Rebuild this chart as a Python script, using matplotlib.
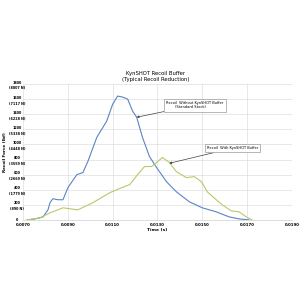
import matplotlib

matplotlib.use("Agg")
import matplotlib.pyplot as plt

# values
blue_t = [0.00718, 0.00753, 0.00789, 0.00811, 0.00820, 0.00833, 0.00856, 0.00878, 0.00900,
          0.00940, 0.00967, 0.00989, 0.01029, 0.01073, 0.01100, 0.01122, 0.01144, 0.01167,
          0.01189, 0.01207, 0.01233, 0.01264, 0.01296, 0.01340, 0.01384, 0.01442, 0.01500,
          0.01562, 0.01620, 0.01664, 0.01709]
blue_f = [0, 13, 40, 133, 227, 280, 267, 267, 427,
          600, 627, 773, 1093, 1307, 1533, 1640, 1627, 1600,
          1440, 1360, 1093, 840, 693, 507, 373, 240, 160,
          107, 40, 13, 0]

green_t = [0.00718, 0.00776, 0.00820, 0.00878, 0.00944, 0.01011, 0.01087, 0.01140, 0.01176,
           0.01211, 0.01242, 0.01273, 0.01296, 0.01322, 0.01353, 0.01384, 0.01429, 0.01464,
           0.01496, 0.01522, 0.01562, 0.01589, 0.01629, 0.01664, 0.01696, 0.01722]
green_f = [0, 27, 93, 160, 133, 227, 360, 427, 467,
           600, 707, 707, 760, 827, 760, 640, 560, 573,
           507, 373, 267, 200, 120, 107, 40, 0]

x_ticks = [0.0070, 0.0090, 0.0110, 0.0130, 0.0150, 0.0170, 0.0190]
y_ticks = [0, 200, 400, 600, 800, 1000, 1200, 1400, 1600, 1800]
y_newtons = ["", "890 N", "1779 N", "2669 N", "3559 N", "4448 N", "5338 N", "6228 N", "7117 N", "8007 N"]

fig = plt.figure(figsize=(3, 3), dpi=100)
ax = fig.add_axes([0.077, 0.267, 0.896, 0.453])

ax.plot(blue_t, blue_f, color="#5b84c4", linewidth=0.8, solid_joinstyle="round")
ax.plot(green_t, green_f, color="#b8c96a", linewidth=0.8, solid_joinstyle="round")

ax.set_xlim(x_ticks[0], x_ticks[-1])
ax.set_ylim(0, 1800)
ax.set_xticks(x_ticks)
ax.set_xticklabels([f"{t:.4f}" for t in x_ticks], fontsize=2.8, fontweight="bold")
ax.set_yticks(y_ticks)
ax.set_yticklabels([f"{v}\n({n})" if n else f"{v}" for v, n in zip(y_ticks, y_newtons)],
                   fontsize=2.4, fontweight="bold", linespacing=1.6, ha="center")
ax.tick_params(axis="y", length=0, pad=4.5)
ax.tick_params(axis="x", length=0, pad=2)
ax.grid(color="#dedede", linewidth=0.5)
for side in ("top", "right", "left"):
    ax.spines[side].set_visible(False)
ax.spines["bottom"].set_color("#cfcfcf")
ax.spines["bottom"].set_linewidth(0.5)

ax.set_xlabel("Time (s)", fontsize=3.2, fontweight="bold", labelpad=1)
ax.set_ylabel("Recoil Force (lbf)", fontsize=3.0, fontweight="bold")
ax.yaxis.set_label_coords(-0.062, 0.5)
fig.text(0.52, 0.745, "KynSHOT Recoil Buffer\n(Typical Recoil Reduction)",
         ha="center", va="center", fontsize=3.8, linespacing=1.4)

box = dict(boxstyle="square,pad=0.6", fc="white", ec="#9a9a9a", lw=0.5)
arrow = dict(arrowstyle="-|>", color="#404040", lw=0.5, mutation_scale=3, shrinkA=0, shrinkB=0)
ax.annotate("Recoil  Without KynSHOT Buffer\n        (Standard Stock)",
            xy=(0.01207, 1360), xytext=(0.01340, 1520), fontsize=2.6,
            va="center", ha="left", bbox=box, arrowprops=arrow)
ax.annotate("Recoil  With KynSHOT Buffer",
            xy=(0.01353, 750), xytext=(0.01520, 950), fontsize=2.6,
            va="center", ha="left", bbox=box, arrowprops=arrow)

fig.savefig("out.png", dpi=100)
